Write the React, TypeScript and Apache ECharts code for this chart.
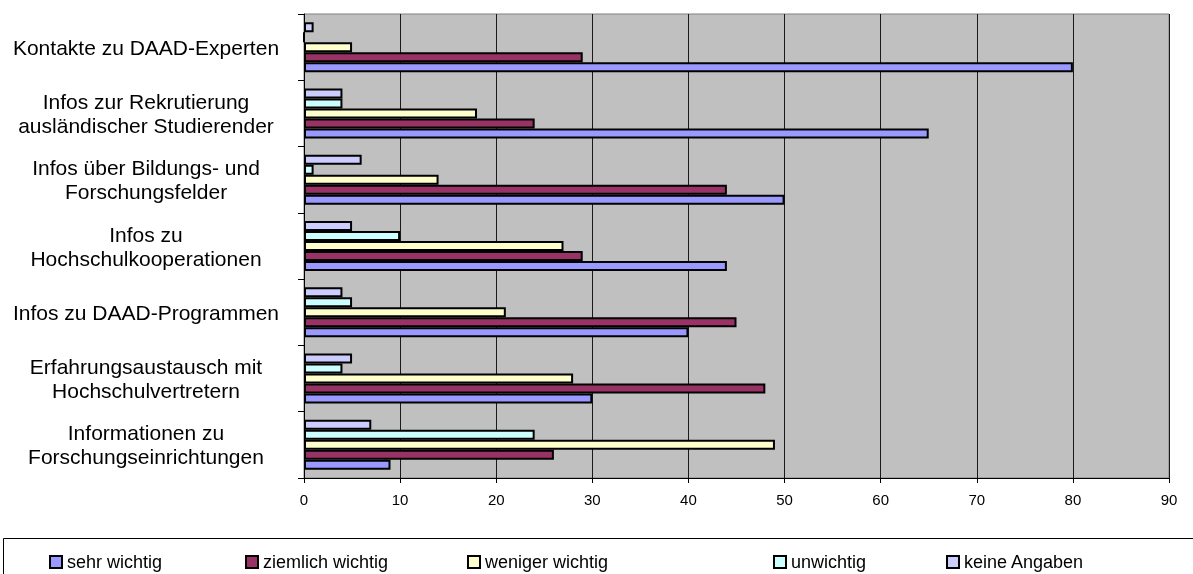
import React, { useEffect, useRef } from "react";
import * as echarts from "echarts";

// Categories bottom -> top (ECharts category y axis starts at the bottom)
const categories = [
  "Informationen zu\nForschungseinrichtungen",
  "Erfahrungsaustausch mit\nHochschulvertretern",
  "Infos zu DAAD-Programmen",
  "Infos zu\nHochschulkooperationen",
  "Infos über Bildungs- und\nForschungsfelder",
  "Infos zur Rekrutierung\nausländischer Studierender",
  "Kontakte zu DAAD-Experten",
];

const seriesNames = ["sehr wichtig", "ziemlich wichtig", "weniger wichtig", "unwichtig", "keine Angaben"];

const sehrWichtig = [9, 30, 40, 44, 50, 65, 80];
const ziemlichWichtig = [26, 48, 45, 29, 44, 24, 29];
const wenigerWichtig = [49, 28, 21, 27, 14, 18, 5];
const unwichtig = [24, 4, 5, 10, 1, 4, 0];
const keineAngaben = [7, 5, 4, 5, 6, 4, 1];

const seriesColors = ["#9999FF", "#993366", "#FFFFCC", "#CCFFFF", "#CCCCFF"];

const xTicks = { min: 0, max: 90, interval: 10 };

const legendLefts = [44, 240, 462, 768, 941];

export default function App() {
  const ref = useRef<HTMLDivElement>(null);

  useEffect(() => {
    if (!ref.current) return;
    const chart = echarts.init(ref.current, undefined, { renderer: "svg" });
    const values = [sehrWichtig, ziemlichWichtig, wenigerWichtig, unwichtig, keineAngaben];
    // draw order so that "sehr wichtig" sits at the bottom of each band
    const order = [4, 3, 2, 1, 0];
    const font = "'Liberation Sans', Arial, sans-serif";
    const series = order.map((i) => ({
      name: seriesNames[i],
      type: "bar",
      data: values[i],
      barWidth: 10,
      barGap: "0%",
      itemStyle: { color: seriesColors[i], borderColor: "#000", borderWidth: 2 },
      emphasis: { disabled: true },
    }));
    chart.setOption({
      animation: false,
      textStyle: { fontFamily: font },
      grid: {
        left: 304,
        right: 24,
        top: 14,
        bottom: 96,
        show: true,
        backgroundColor: "#C0C0C0",
        borderColor: "#808080",
        borderWidth: 1,
      },
      xAxis: {
        type: "value",
        min: xTicks.min,
        max: xTicks.max,
        interval: xTicks.interval,
        axisLine: { show: true, lineStyle: { color: "#000", width: 1 } },
        axisTick: { show: true, length: 5, lineStyle: { color: "#000" } },
        splitLine: { show: true, lineStyle: { color: "#1a1a1a", width: 1 } },
        axisLabel: { color: "#000", fontSize: 15, margin: 14, fontFamily: font },
      },
      yAxis: {
        type: "category",
        data: categories,
        axisLine: { show: true, lineStyle: { color: "#000", width: 1 } },
        axisTick: { show: true, length: 6, lineStyle: { color: "#000" } },
        splitLine: { show: false },
        axisLabel: {
          color: "#000",
          fontSize: 21,
          lineHeight: 24,
          align: "center",
          margin: 158,
          fontFamily: font,
        },
      },
      legend: seriesNames.map((n, i) => ({
        data: [n],
        left: legendLefts[i],
        top: 548,
        itemWidth: 12,
        itemHeight: 12,
        icon: "rect",
        selectedMode: false,
        itemStyle: { borderColor: "#000", borderWidth: 2 },
        textStyle: { color: "#000", fontSize: 18, fontFamily: font },
      })),
      graphic: [
        {
          type: "rect",
          shape: { x: 3.5, y: 538.5, width: 1200, height: 60 },
          style: { fill: "none", stroke: "#000", lineWidth: 1 },
          silent: true,
        },
      ],
      series,
    });
    return () => chart.dispose();
  }, []);

  return (
    <div
      ref={ref}
      style={{ position: "fixed", left: 0, top: 0, width: 1193, height: 574 }}
    />
  );
}
